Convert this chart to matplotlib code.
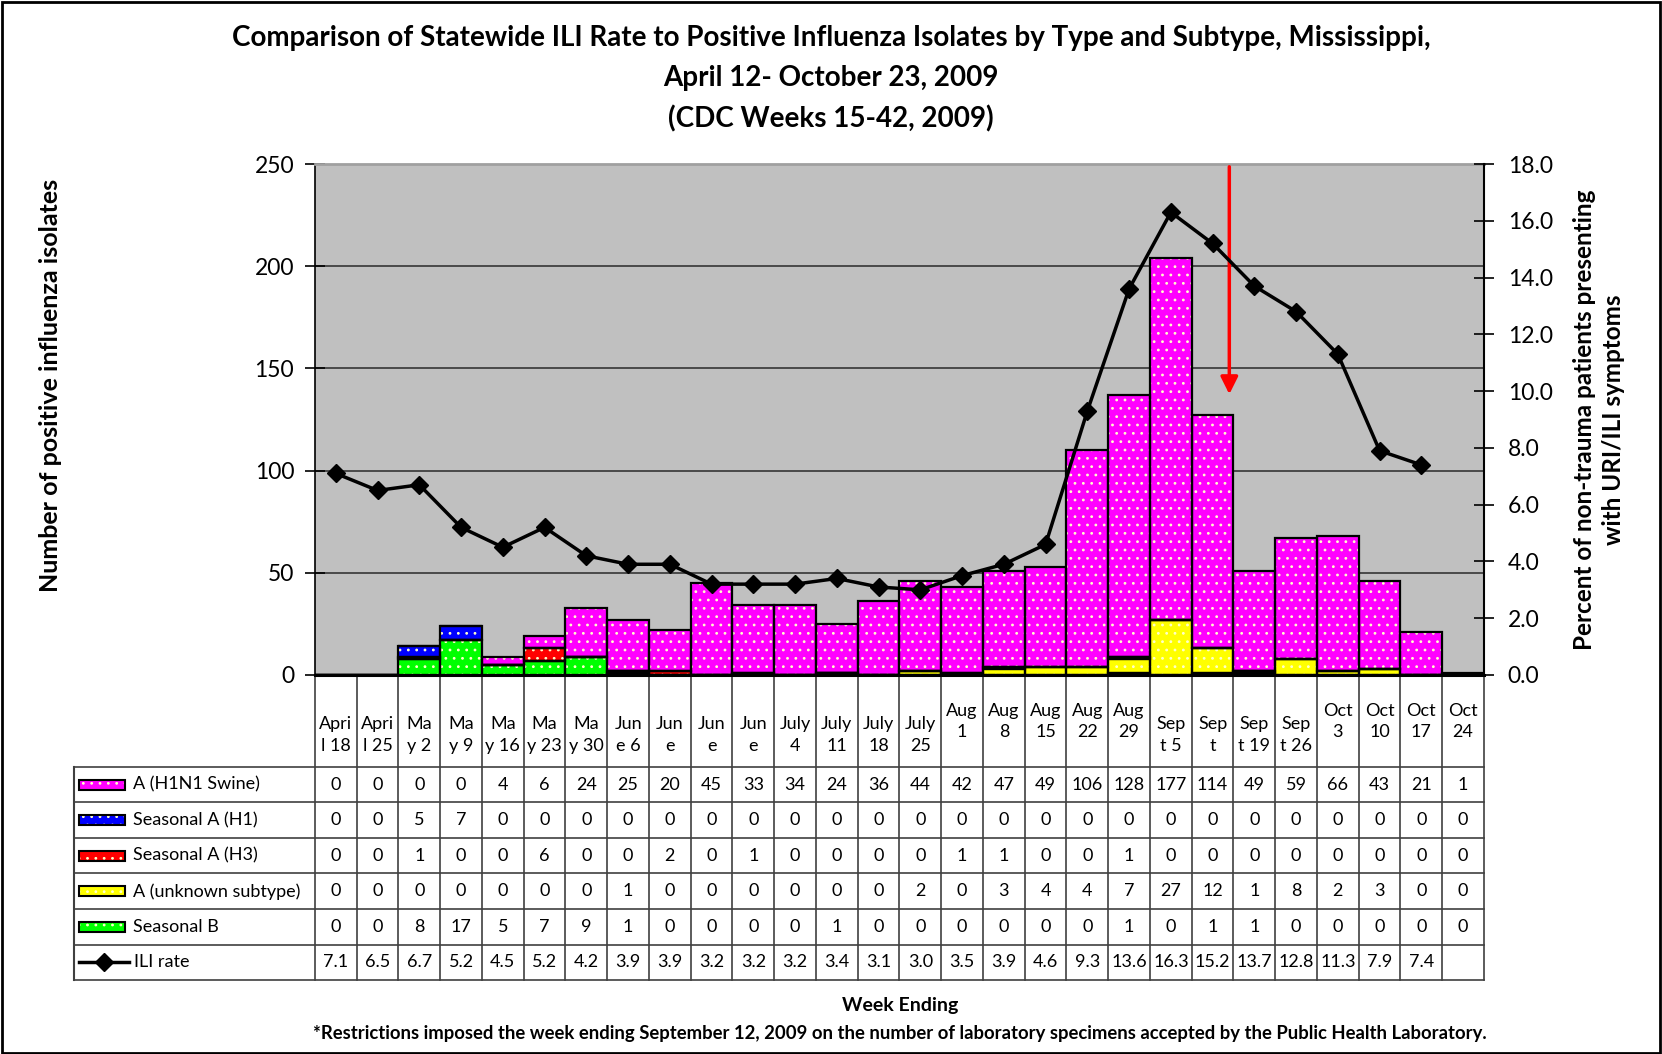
import numpy as np
import matplotlib.pyplot as plt
from matplotlib.patches import Rectangle
from matplotlib.lines import Line2D

plt.rcParams['font.family'] = ['Lato', 'DejaVu Sans']
plt.rcParams['hatch.linewidth'] = 0.8

weeks = ["Apri\nl 18", "Apri\nl 25", "Ma\ny 2", "Ma\ny 9", "Ma\ny 16", "Ma\ny 23",
         "Ma\ny 30", "Jun\ne 6", "Jun\ne", "Jun\ne", "Jun\ne", "July\n4", "July\n11",
         "July\n18", "July\n25", "Aug\n1", "Aug\n8", "Aug\n15", "Aug\n22", "Aug\n29",
         "Sep\nt 5", "Sep\nt", "Sep\nt 19", "Sep\nt 26", "Oct\n3", "Oct\n10",
         "Oct\n17", "Oct\n24"]

h1n1 = [0, 0, 0, 0, 4, 6, 24, 25, 20, 45, 33, 34, 24, 36, 44, 42, 47, 49, 106, 128,
        177, 114, 49, 59, 66, 43, 21, 1]
h1 = [0, 0, 5, 7, 0, 0, 0, 0, 0, 0, 0, 0, 0, 0, 0, 0, 0, 0, 0, 0, 0, 0, 0, 0, 0, 0, 0, 0]
h3 = [0, 0, 1, 0, 0, 6, 0, 0, 2, 0, 1, 0, 0, 0, 0, 1, 1, 0, 0, 1, 0, 0, 0, 0, 0, 0, 0, 0]
unknown = [0, 0, 0, 0, 0, 0, 0, 1, 0, 0, 0, 0, 0, 0, 2, 0, 3, 4, 4, 7, 27, 12, 1, 8, 2,
           3, 0, 0]
seas_b = [0, 0, 8, 17, 5, 7, 9, 1, 0, 0, 0, 0, 1, 0, 0, 0, 0, 0, 0, 1, 0, 1, 1, 0, 0,
          0, 0, 0]
ili = [7.1, 6.5, 6.7, 5.2, 4.5, 5.2, 4.2, 3.9, 3.9, 3.2, 3.2, 3.2, 3.4, 3.1, 3.0, 3.5,
       3.9, 4.6, 9.3, 13.6, 16.3, 15.2, 13.7, 12.8, 11.3, 7.9, 7.4, np.nan]

series_names = ["A (H1N1 Swine)", "Seasonal A (H1)", "Seasonal A (H3)",
                "A (unknown subtype)", "Seasonal B"]
series_vals = [h1n1, h1, h3, unknown, seas_b]
series_cols = ["#FF00FF", "#0000FF", "#FF0000", "#FFFF00", "#00FF00"]

x = np.arange(len(weeks))

fig = plt.figure(figsize=(16.62, 10.54), dpi=100)
ax = fig.add_axes([0.1895, 0.3596, 0.7034, 0.4848])
ax.set_facecolor("#C0C0C0")

# stacked bars, bottom to top: B, unknown, H3, H1, H1N1
bottom = np.zeros(len(weeks))
for name, vals, col in reversed(list(zip(series_names, series_vals, series_cols))):
    vals = np.array(vals, dtype=float)
    ax.bar(x, vals, 1.0, bottom=bottom, color=col, edgecolor="#FFFFCC", lw=0,
           hatch="..", zorder=2)
    ax.bar(x, vals, 1.0, bottom=bottom, fill=False, edgecolor="black", lw=1.6, zorder=3)
    bottom += vals

ax.set_xlim(-0.5, len(weeks) - 0.5)
ax.set_ylim(0, 250)
ax.set_yticks(range(0, 251, 50))
ax.set_xticks([])
ax.yaxis.grid(True, color="#404040", lw=1.3)
ax.set_axisbelow(True)
ax.tick_params(axis="y", direction="inout", length=14, width=1.2, labelsize=16.5, pad=8)
ax.spines["top"].set_color("#A0A0A0")
ax.spines["top"].set_linewidth(2)
ax.spines["bottom"].set_linewidth(2.2)
ax.spines["left"].set_linewidth(1.2)
ax.spines["right"].set_visible(False)
ax.set_ylabel("Number of positive influenza isolates", fontsize=18, fontweight="bold")
ax.yaxis.set_label_coords(-0.2164, 0.567)

# restriction arrow
ax.annotate("", xy=(21.4, 136), xytext=(21.4, 250),
            arrowprops=dict(arrowstyle="-|>", color="red", lw=2.5, mutation_scale=26),
            zorder=6)

ax2 = ax.twinx()
ax2.plot(x, ili, color="black", lw=2.5, marker="D", ms=9, zorder=5)
ax2.set_ylim(0, 18)
ax2.set_yticks(np.arange(0, 18.1, 2))
ax2.set_yticklabels([f"{v:.1f}" for v in np.arange(0, 18.1, 2)])
ax2.tick_params(axis="y", direction="inout", length=14, width=1.2, labelsize=16.5, pad=10)
for s in ["top", "left", "bottom"]:
    ax2.spines[s].set_visible(False)
ax2.spines["right"].set_linewidth(1.5)
ax2.set_ylabel("Percent of non-trauma patients presenting\nwith URI/ILI symptoms",
               fontsize=17.5, fontweight="bold", linespacing=1.3)
ax2.yaxis.set_label_coords(1.076, 0.50)

# data table below the plot
tr = ax.get_xaxis_transform()
head_h = 0.180
row_h = 0.0695
n_rows = 6
tab_bot = -head_h - n_rows * row_h
left_x = -0.2062
line_c = "#404040"

for i in range(len(weeks) + 1):
    ax.plot([i - 0.5, i - 0.5], [0, tab_bot], transform=tr, color=line_c, lw=1.2,
            clip_on=False)
ax.plot([left_x, left_x], [-head_h, tab_bot], transform=ax.transAxes, color=line_c,
        lw=1.5, clip_on=False)
for k in range(n_rows + 1):
    yk = -head_h - k * row_h
    ax.plot([left_x, 1], [yk, yk], transform=ax.transAxes, color=line_c, lw=1.2,
            clip_on=False)

for i, lab in enumerate(weeks):
    yc = -0.091 if lab.startswith(("Aug", "Oct")) else -0.117
    ax.text(i, yc, lab, transform=tr, ha="center", va="center", fontsize=13,
            linespacing=1.45)

row_vals = [[str(v) for v in vals] for vals in series_vals]
row_vals.append(["" if np.isnan(v) else f"{v:.1f}" for v in ili])
for k, vals in enumerate(row_vals):
    yc = -head_h - (k + 0.5) * row_h
    for i, s in enumerate(vals):
        ax.text(i, yc, s, transform=tr, ha="center", va="center", fontsize=13)

# legend keys in the first table column
key_x0 = left_x + 5 / 1169
key_w = 46 / 1169
key_h = 10 / 511
for k, (name, col) in enumerate(zip(series_names, series_cols)):
    yc = -head_h - (k + 0.5) * row_h
    ax.add_patch(Rectangle((key_x0, yc - key_h / 2), key_w, key_h, transform=ax.transAxes,
                           facecolor=col, edgecolor="#FFFFCC", lw=0, hatch="..",
                           clip_on=False))
    ax.add_patch(Rectangle((key_x0, yc - key_h / 2), key_w, key_h, transform=ax.transAxes,
                           fill=False, edgecolor="black", lw=1.5, clip_on=False))
    ax.text(key_x0 + key_w + 8 / 1169, yc, name, transform=ax.transAxes, ha="left",
            va="center", fontsize=13)
yc = -head_h - 5.5 * row_h
ax.add_line(Line2D([key_x0, key_x0 + 25 / 1169, key_x0 + 50 / 1169], [yc, yc, yc],
                   transform=ax.transAxes, color="black", lw=2.5, marker="D",
                   markevery=[1], ms=9, clip_on=False))
ax.text(key_x0 + 55 / 1169, yc, "ILI rate", transform=ax.transAxes, ha="left",
        va="center", fontsize=13)

fig.text(0.5, 1 - 38 / 1054, "Comparison of Statewide ILI Rate to Positive Influenza "
         "Isolates by Type and Subtype, Mississippi,", ha="center", va="center",
         fontsize=20, fontweight="bold")
fig.text(0.5, 1 - 78 / 1054, "April 12- October 23, 2009", ha="center", va="center",
         fontsize=20, fontweight="bold")
fig.text(0.5, 1 - 119 / 1054, "(CDC Weeks 15-42, 2009)", ha="center", va="center",
         fontsize=20, fontweight="bold")
fig.text(900 / 1662, 1 - 1005 / 1054, "Week Ending", ha="center", va="center",
         fontsize=14, fontweight="bold")
fig.text(900 / 1662, 1 - 1033 / 1054, "*Restrictions imposed the week ending September "
         "12, 2009 on the number of laboratory specimens accepted by the Public Health "
         "Laboratory.", ha="center", va="center", fontsize=13.3, fontweight="bold")

fig.add_artist(Rectangle((0.001, 0.001), 0.998, 0.997, transform=fig.transFigure,
                         fill=False, edgecolor="black", lw=2))

fig.savefig("out.png", dpi=100)
